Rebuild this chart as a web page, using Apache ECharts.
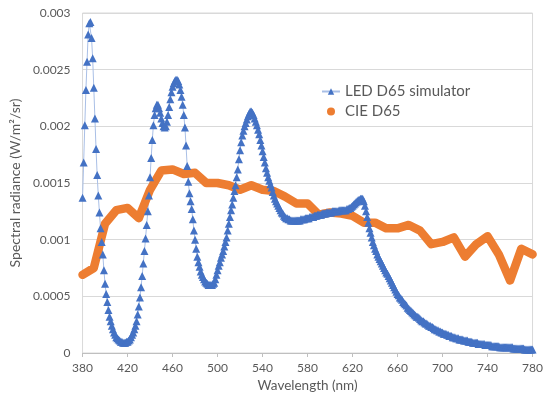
<!DOCTYPE html>
<html>
<head>
<meta charset="utf-8">
<script src="https://cdn.jsdelivr.net/npm/echarts@6/dist/echarts.min.js"></script>
<style>
	html, body { margin: 0; padding: 0; background: #fff; }
	#container { width: 546px; height: 398px; }
</style>
</head>
<body>
<div id="container"></div>
<script type="text/javascript">
	// 波长刻度
	var xTicks = [380, 420, 460, 500, 540, 580, 620, 660, 700, 740, 780];
	var yTicks = [0, 0.0005, 0.001, 0.0015, 0.002, 0.0025, 0.003];

	// LED D65 simulator, 1 nm steps from 380 nm
	var ledStart = 380;
	var ledRadiance = [
		0.00137, 0.00168, 0.00201, 0.00232, 0.00257, 0.00281, 0.00291, 0.00292, 0.00278, 0.00260,
		0.00234, 0.00207, 0.00180, 0.00157, 0.00139, 0.00124, 0.00110, 0.00098, 0.00087, 0.00073,
		0.00061, 0.00052, 0.00045, 0.00038, 0.00032, 0.00028, 0.00024, 0.00021, 0.00018, 0.00016,
		0.00014, 0.00013, 0.00012, 0.00011, 0.00010, 0.00010, 0.00009, 0.00009, 0.00009, 0.00010,
		0.00010, 0.00011, 0.00012, 0.00014, 0.00016, 0.00018, 0.00021, 0.00024, 0.00028, 0.00034,
		0.00041, 0.00049, 0.00058, 0.00068, 0.00079, 0.00090, 0.00101, 0.00113, 0.00125, 0.00139,
		0.00155, 0.00172, 0.00188, 0.00201, 0.00210, 0.00216, 0.00219, 0.00219, 0.00216, 0.00212,
		0.00207, 0.00203, 0.00200, 0.00199, 0.00200, 0.00204, 0.00210, 0.00217, 0.00224, 0.00230,
		0.00235, 0.00238, 0.00240, 0.00241, 0.00241, 0.00240, 0.00237, 0.00232, 0.00226, 0.00219,
		0.00210, 0.00199, 0.00183, 0.00165, 0.00151, 0.00141, 0.00134, 0.00127, 0.00118, 0.00108,
		0.00100, 0.00092, 0.00085, 0.00080, 0.00076, 0.00072, 0.00069, 0.00067, 0.00065, 0.00063,
		0.00062, 0.00061, 0.00060, 0.00060, 0.00060, 0.00060, 0.00061, 0.00062, 0.00065, 0.00069,
		0.00073, 0.00077, 0.00080, 0.00084, 0.00087, 0.00090, 0.00094, 0.00098, 0.00102, 0.00108,
		0.00114, 0.00120, 0.00126, 0.00131, 0.00137, 0.00143, 0.00148, 0.00155, 0.00162, 0.00171,
		0.00179, 0.00186, 0.00192, 0.00196, 0.00200, 0.00203, 0.00206, 0.00209, 0.00211, 0.00213,
		0.00213, 0.00212, 0.00210, 0.00207, 0.00204, 0.00201, 0.00197, 0.00193, 0.00188, 0.00183,
		0.00178, 0.00173, 0.00168, 0.00163, 0.00159, 0.00155, 0.00152, 0.00149, 0.00146, 0.00142,
		0.00139, 0.00136, 0.00134, 0.00132, 0.00130, 0.00128, 0.00126, 0.00124, 0.00123, 0.00121,
		0.00120, 0.00119, 0.00119, 0.00118, 0.00118, 0.00117, 0.00117, 0.00117, 0.00117, 0.00117,
		0.00117, 0.00117, 0.00117, 0.00117, 0.00118, 0.00118, 0.00118, 0.00118, 0.00119, 0.00119,
		0.00119, 0.00119, 0.00120, 0.00120, 0.00120, 0.00120, 0.00121, 0.00121, 0.00121, 0.00122,
		0.00122, 0.00122, 0.00122, 0.00123, 0.00123, 0.00123, 0.00123, 0.00124, 0.00124, 0.00124,
		0.00124, 0.00124, 0.00125, 0.00125, 0.00125, 0.00125, 0.00125, 0.00125, 0.00126, 0.00126,
		0.00126, 0.00126, 0.00126, 0.00126, 0.00126, 0.00127, 0.00127, 0.00128, 0.00128, 0.00129,
		0.00130, 0.00131, 0.00132, 0.00133, 0.00134, 0.00135, 0.00135, 0.00136, 0.00136, 0.00136,
		0.00134, 0.00130, 0.00125, 0.00120, 0.00115, 0.00110, 0.00106, 0.00102, 0.00098, 0.00095,
		0.00092, 0.00090, 0.00087, 0.00085, 0.00083, 0.00081, 0.00079, 0.00077, 0.00075, 0.00073,
		0.00071, 0.00070, 0.00068, 0.00066, 0.00064, 0.00062, 0.00060, 0.00058, 0.00056, 0.00054,
		0.00052, 0.00051, 0.00049, 0.00048, 0.00047, 0.00045, 0.00044, 0.00043, 0.00042, 0.00040,
		0.00039, 0.00038, 0.00037, 0.00036, 0.00035, 0.00034, 0.00033, 0.00032, 0.00032, 0.00031,
		0.00030, 0.00029, 0.00028, 0.00028, 0.00027, 0.00026, 0.00026, 0.00025, 0.00024, 0.00024,
		0.00023, 0.00023, 0.00022, 0.00021, 0.00021, 0.00020, 0.00020, 0.00019, 0.00019, 0.00018,
		0.00018, 0.00017, 0.00017, 0.00017, 0.00016, 0.00016, 0.00015, 0.00015, 0.00015, 0.00014,
		0.00014, 0.00014, 0.00013, 0.00013, 0.00013, 0.00012, 0.00012, 0.00012, 0.00012, 0.00011,
		0.00011, 0.00011, 0.00011, 0.00010, 0.00010, 0.00010, 0.00010, 0.00009, 0.00009, 0.00009,
		0.00009, 0.00009, 0.00008, 0.00008, 0.00008, 0.00008, 0.00008, 0.00008, 0.00007, 0.00007,
		0.00007, 0.00007, 0.00007, 0.00007, 0.00006, 0.00006, 0.00006, 0.00006, 0.00006, 0.00006,
		0.00006, 0.00005, 0.00005, 0.00005, 0.00005, 0.00005, 0.00005, 0.00005, 0.00005, 0.00005,
		0.00005, 0.00005, 0.00005, 0.00004, 0.00004, 0.00004, 0.00004, 0.00004, 0.00004, 0.00004,
		0.00004, 0.00004, 0.00004, 0.00003, 0.00003, 0.00003, 0.00003, 0.00003, 0.00003, 0.00003,
		0.00003
	];

	// CIE D65, 10 nm steps from 380 nm
	var cieStart = 380;
	var cieRadiance = [
		0.00069, 0.00075, 0.00114, 0.00126, 0.00128, 0.00119, 0.00144, 0.00161, 0.00162, 0.00158,
		0.00159, 0.00150, 0.00150, 0.00148, 0.00144, 0.00148, 0.00144, 0.00143, 0.00138, 0.00132,
		0.00132, 0.00122, 0.00124, 0.00123, 0.00121, 0.00115, 0.00115, 0.00110, 0.00110, 0.00113,
		0.00108, 0.00096, 0.00098, 0.00102, 0.00085, 0.00096, 0.00103, 0.00087, 0.00064, 0.00092,
		0.00087
	];

	var ledData = ledRadiance.map(function(v, i) { return [ledStart + i, v]; });
	var cieData = cieRadiance.map(function(v, i) { return [cieStart + i * 10, v]; });

	var dom = document.getElementById("container");
	var myChart = echarts.init(dom);
	var fontName = 'Lato';
	var textColor = '#595959';

	var option = {
		animation: false,
		textStyle: { fontFamily: fontName },
		grid: {
			left: 76,
			right: 10,
			top: 13,
			bottom: 45,
			show: true,
			borderColor: '#d9d9d9',
			borderWidth: 1
		},
		legend: {
			orient: 'vertical',
			left: 321,
			top: 84,
			padding: 0,
			itemWidth: 18,
			itemHeight: 8,
			itemGap: 5,
			textStyle: { fontFamily: fontName, fontSize: 15, color: textColor },
			data: [
				{ name: 'LED D65 simulator' },
				{ name: 'CIE D65', icon: 'circle' }
			]
		},
		xAxis: {
			type: 'value',
			min: xTicks[0],
			max: xTicks[xTicks.length - 1],
			interval: xTicks[1] - xTicks[0],
			name: 'Wavelength (nm)',
			nameLocation: 'middle',
			nameGap: 26,
			nameTextStyle: { fontFamily: fontName, fontSize: 13.5, color: textColor },
			axisLine: { lineStyle: { color: '#bfbfbf' } },
			axisTick: { show: true, length: 4, lineStyle: { color: '#bfbfbf' } },
			axisLabel: { fontFamily: fontName, fontSize: 12, color: textColor, margin: 9 },
			splitLine: { show: false }
		},
		yAxis: {
			type: 'value',
			min: yTicks[0],
			max: yTicks[yTicks.length - 1],
			interval: yTicks[1] - yTicks[0],
			name: 'Spectral radiance (W/m²/sr)',
			nameLocation: 'middle',
			nameGap: 47,
			nameTextStyle: { fontFamily: fontName, fontSize: 14, color: textColor },
			axisLine: { show: false },
			axisTick: { show: false },
			axisLabel: {
				fontFamily: fontName, fontSize: 12, color: textColor, margin: 12,
				formatter: function(v) {
					for (var i = 0; i < yTicks.length; i++) {
						if (Math.abs(yTicks[i] - v) < 1e-9) return String(yTicks[i]);
					}
					return '';
				}
			},
			splitLine: { lineStyle: { color: '#d9d9d9' } }
		},
		series: [{
			name: 'LED D65 simulator',
			type: 'line',
			data: ledData,
			symbol: 'triangle',
			symbolSize: 8,
			showSymbol: true,
			itemStyle: { color: '#4472c4' },
			lineStyle: { color: '#a9bfe6', width: 1 }
		}, {
			name: 'CIE D65',
			type: 'line',
			data: cieData,
			showSymbol: false,
			itemStyle: { color: '#ed7d31' },
			lineStyle: { color: '#ed7d31', width: 8.5, join: 'round', cap: 'round' }
		}]
	};

	if (option && typeof option === "object") {
		myChart.setOption(option, true);
	}
</script>
</body>
</html>
